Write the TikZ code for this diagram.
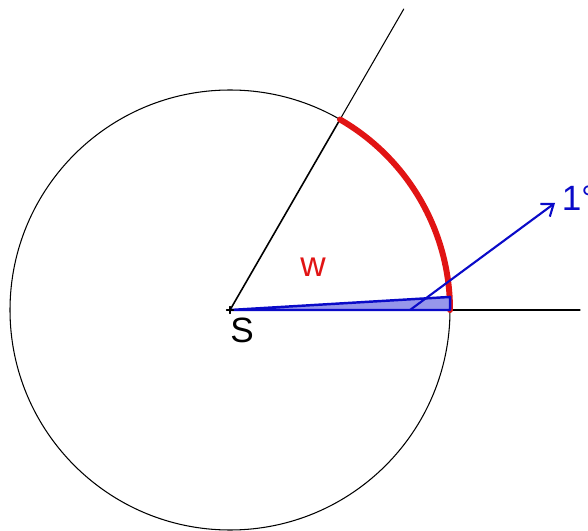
\documentclass[tikz,border=0pt]{standalone}
\usepackage{fontspec}
\setmainfont{Liberation Sans}
\usetikzlibrary{arrows.meta}
\definecolor{arcred}{RGB}{225,20,20}
\definecolor{vecblue}{RGB}{10,10,200}
\definecolor{wedgefill}{RGB}{150,150,235}

\begin{document}
\begin{tikzpicture}[
    line cap=round,
    line join=round,
    thinline/.style={line width=0.6pt},
    radiusline/.style={line width=0.9pt},
    bigarc/.style={line width=3.4pt,color=arcred},
    wedge/.style={line width=1.4pt,draw=vecblue,fill=wedgefill},
    vector/.style={line width=1.2pt,color=vecblue,-{Straight Barb[length=6pt,width=9pt]}},
    lbl/.style={inner sep=0pt,font=\fontsize{20}{24}\selectfont}
]
\useasboundingbox (-4.6,-4.4) rectangle (7.16,6.2);

% -------------------------------------------------
% Points
% -------------------------------------------------

\coordinate (S) at (0,0);            % centre
\coordinate (P) at (60:4.4);         % ray meets circle
\coordinate (Ptop) at (60:6.95);     % end of ray
\coordinate (Q) at (4.4,0);          % right point of circle
\coordinate (Qend) at (7.0,0);       % end of horizontal line
\coordinate (R) at (3.4:4.41);       % tip of the small wedge
\coordinate (Vstart) at (3.6,0);     % foot of the vector
\coordinate (Vend) at (6.5,2.14);    % head of the vector

% -------------------------------------------------
% Circle and lines
% -------------------------------------------------

\draw[thinline] (S) circle[radius=4.4];
\draw[thinline] (P)--(Ptop);
\draw[thinline] (Q)--(Qend);
\draw[radiusline] (S)--(P);

% -------------------------------------------------
% Arc w
% -------------------------------------------------

\draw[bigarc] (P) arc[start angle=60,end angle=0,radius=4.4];

% -------------------------------------------------
% Small wedge and vector
% -------------------------------------------------

\draw[wedge] (S)--(Q)--(R)--cycle;
\draw[vector] (Vstart)--(Vend);
\draw[thinline] (-0.07,0)--(0.07,0) (0,-0.07)--(0,0.07);

% -------------------------------------------------
% Labels
% -------------------------------------------------

\node[lbl] (labS) at (0.24,-0.4) {S};
\node[lbl,text=arcred] (labw) at (1.66,0.86) {w};
\node[lbl,text=vecblue,anchor=west] (labdeg) at (6.63,2.24) {1°};
\end{tikzpicture}
\end{document}
